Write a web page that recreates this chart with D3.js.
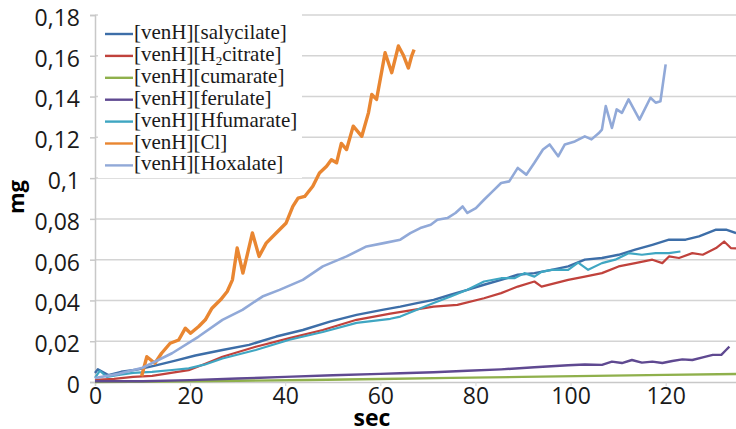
<!DOCTYPE html>
<html>
<head>
<meta charset="utf-8">
<script src="https://cdn.jsdelivr.net/npm/d3@7"></script>
<style>
  body { margin: 0; background: #fff; }
  svg { display: block; }
</style>
</head>
<body>
<script>
// Data: [sec, mg]
const salycilate = [[0,0.0044],[0.6,0.0062],[2.8,0.0034],[5.5,0.005],[9.1,0.0062],[12.6,0.008],[16.9,0.0105],[21.1,0.013],[26.8,0.0157],[32.4,0.0182],[38.1,0.0223],[43.7,0.0255],[49.4,0.0296],[55,0.0329],[60.7,0.0355],[64.2,0.037],[67.7,0.0387],[71.2,0.0403],[74.8,0.0428],[78.3,0.0452],[81.8,0.0477],[85.4,0.0501],[88.9,0.0526],[92.4,0.0534],[96,0.055],[99.5,0.0567],[103,0.06],[106.6,0.0608],[110.1,0.0624],[113.6,0.0649],[117.2,0.0673],[120.7,0.0698],[124.2,0.0698],[127,0.0714],[130.6,0.0747],[132.7,0.0747],[134.8,0.073]]
const citrate = [[0,0.001],[4,0.0015],[8,0.0025],[12,0.003],[16,0.0045],[19.7,0.0058],[23.2,0.009],[26.8,0.0124],[33.8,0.0173],[40.9,0.0215],[47.9,0.0255],[55,0.0305],[62.1,0.0335],[66,0.035],[71.2,0.037],[76.2,0.0378],[81.8,0.0411],[85.4,0.0436],[88.9,0.0468],[92.4,0.0493],[93.9,0.0468],[99.5,0.0501],[103,0.0517],[106.6,0.0534],[110.1,0.0567],[113.6,0.0583],[117.2,0.06],[119.3,0.0583],[120.7,0.0616],[122.8,0.0608],[125.6,0.0632],[127.8,0.0624],[130.6,0.0657],[132.3,0.0689],[133.7,0.0657],[134.8,0.0655]]
const cumarate = [[0,0],[15,0.0002],[30,0.0006],[45,0.001],[60,0.0015],[75,0.002],[90,0.0025],[105,0.003],[120,0.0035],[135,0.0039]]
const ferulate = [[0,0.0004],[10,0.0004],[20,0.0009],[30,0.0017],[40,0.0025],[50,0.0033],[60,0.004],[64.2,0.0043],[71.2,0.0048],[78.3,0.0055],[85.4,0.0062],[92.4,0.0072],[99.5,0.0082],[103,0.0086],[106.6,0.0084],[108.7,0.01],[110.8,0.0093],[112.9,0.0108],[115,0.0095],[117.2,0.01],[119.3,0.0093],[121.4,0.0103],[123.5,0.0111],[125.6,0.0108],[127.8,0.0121],[129.9,0.0133],[131.7,0.0133],[132.7,0.0157],[133.4,0.0173]]
const fumarate = [[0,0.002],[1,0.0055],[2.5,0.0025],[5,0.0035],[8,0.0045],[12,0.005],[16.2,0.0059],[19.7,0.0067],[23,0.0085],[26.8,0.0115],[33.8,0.0157],[40.9,0.0207],[47.9,0.0245],[55,0.029],[62.1,0.031],[64.2,0.0321],[67.7,0.0354],[71.2,0.0387],[74.8,0.0419],[78.3,0.0452],[81.8,0.0493],[85.4,0.0509],[88.2,0.0509],[90.3,0.0534],[92.4,0.0517],[93.9,0.054],[96,0.055],[99.5,0.055],[101.6,0.0586],[103.7,0.055],[106.6,0.0583],[109.4,0.06],[112.2,0.0632],[115,0.0624],[117.9,0.0632],[120.7,0.0632],[123.1,0.064]]
const chloride = [[9.8,0.0028],[10.9,0.0124],[12.6,0.0092],[14,0.0141],[15.8,0.019],[17.6,0.0206],[19,0.0264],[20.1,0.0239],[21.8,0.0272],[23.2,0.0305],[24.6,0.0362],[26.4,0.0403],[27.8,0.0444],[28.9,0.0501],[29.9,0.0657],[31.1,0.0534],[32.1,0.0632],[33.1,0.0731],[34.5,0.0616],[36,0.0681],[38.1,0.0731],[40.2,0.078],[41.6,0.0861],[42.7,0.0902],[44.1,0.091],[45.8,0.096],[47.2,0.1025],[48.7,0.1058],[49.7,0.109],[50.8,0.1075],[51.8,0.117],[52.9,0.114],[54.3,0.1255],[56.1,0.1205],[57.5,0.132],[58.2,0.141],[59.2,0.1386],[60.3,0.1525],[61,0.1615],[62.4,0.1517],[63.8,0.1648],[64.9,0.16],[65.9,0.154],[66.6,0.16],[67.1,0.163]]
const oxalate = [[0,0.002],[5,0.004],[10,0.007],[16.2,0.0141],[21.8,0.0223],[26.8,0.0305],[31,0.0354],[35.2,0.0419],[38.8,0.0452],[43.7,0.0501],[47.9,0.0567],[52.9,0.0616],[57.1,0.0665],[60.7,0.0681],[64.2,0.0698],[66.3,0.073],[68.4,0.0755],[70.6,0.0771],[72,0.0796],[74.1,0.0804],[75.8,0.0829],[77.3,0.0861],[78.3,0.0829],[80.1,0.0853],[81.8,0.0894],[83.6,0.0935],[85.4,0.0976],[87.1,0.0984],[88.9,0.105],[90.7,0.1017],[92.4,0.1075],[94.2,0.114],[95.6,0.1165],[97.4,0.1107],[98.8,0.1165],[100.9,0.118],[103,0.1205],[104.4,0.119],[105.9,0.122],[106.6,0.1238],[107.4,0.1353],[108.7,0.1246],[109.7,0.1337],[110.8,0.132],[112.2,0.1386],[114.5,0.1287],[116.8,0.1394],[117.9,0.137],[118.9,0.1377],[120,0.1558]]

const xTicks = [0, 20, 40, 60, 80, 100, 120]
const yTicks = [0, 0.02, 0.04, 0.06, 0.08, 0.1, 0.12, 0.14, 0.16, 0.18]

const series = [
  { name: "salycilate", values: salycilate, color: "#3d6ea8", w: 2.4 },
  { name: "H2citrate", values: citrate, color: "#c0423c", w: 2.2 },
  { name: "cumarate", values: cumarate, color: "#8fb04c", w: 2.4 },
  { name: "ferulate", values: ferulate, color: "#5f4991", w: 2.4 },
  { name: "Hfumarate", values: fumarate, color: "#3fa6c2", w: 2.2 },
  { name: "Cl", values: chloride, color: "#e98631", w: 3.4 },
  { name: "Hoxalate", values: oxalate, color: "#91a9d8", w: 2.6 }
]

const W = 736, H = 429
const x = d3.scaleLinear().domain([0, 135]).range([95, 737])
const y = d3.scaleLinear().domain([0, 0.18]).range([382, 15])

const svg = d3.select("body").append("svg")
  .attr("width", W).attr("height", H)

// gridlines
svg.append("g")
  .selectAll("line")
  .data(yTicks.slice(1))
  .enter().append("line")
  .attr("x1", x(0)).attr("x2", W)
  .attr("y1", d => y(d)).attr("y2", d => y(d))
  .attr("stroke", "#d4d4d4").attr("stroke-width", 1.5)

// y axis
const fmt = d => d3.format("~g")(d).replace(".", ",")
const yAxis = svg.append("g")
  .attr("transform", `translate(${x(0)},0)`)
  .call(d3.axisLeft(y).tickValues(yTicks).tickFormat(fmt).tickSize(5).tickPadding(10))
yAxis.select(".domain").attr("stroke", "#c8c8c8").attr("stroke-width", 1.5)
yAxis.selectAll(".tick line").attr("stroke", "#c8c8c8").attr("stroke-width", 1.5)
yAxis.selectAll("text")
  .attr("dy", "0.45em")
  .style("font-family", "'Open Sans', sans-serif")
  .style("font-size", "23px")
  .attr("fill", "#1a1a1a")

// x axis
const xAxis = svg.append("g")
  .attr("transform", `translate(0,${y(0)})`)
  .call(d3.axisBottom(x).tickValues(xTicks).tickSize(4).tickPadding(2))
xAxis.select(".domain").attr("stroke", "#c8c8c8").attr("stroke-width", 1.5)
xAxis.selectAll(".tick line").attr("stroke", "#d4d4d4")
xAxis.selectAll("text")
  .style("font-family", "'Open Sans', sans-serif")
  .style("font-size", "23px")
  .attr("fill", "#1a1a1a")

// axis titles
svg.append("text")
  .attr("transform", "translate(24,197) rotate(-90)")
  .attr("text-anchor", "middle")
  .style("font-family", "'Open Sans', sans-serif")
  .style("font-size", "22px").style("font-weight", "bold")
  .text("mg")

svg.append("text")
  .attr("x", 372).attr("y", 426)
  .attr("text-anchor", "middle")
  .style("font-family", "'Open Sans', sans-serif")
  .style("font-size", "23px").style("font-weight", "bold")
  .text("sec")

// lines
const line = d3.line().x(d => x(d[0])).y(d => y(d[1]))
svg.append("g")
  .selectAll("path")
  .data(series)
  .enter().append("path")
  .attr("d", d => line(d.values))
  .attr("fill", "none")
  .attr("stroke", d => d.color)
  .attr("stroke-width", d => d.w)
  .attr("stroke-linejoin", "round")

// legend
const legend = svg.append("g").attr("id", "legend")
legend.append("rect")
  .attr("x", 98).attr("y", 10).attr("width", 204).attr("height", 168)
  .attr("fill", "#fff")

const rowY = i => 39 + i * 21.9
legend.selectAll("line")
  .data(series)
  .enter().append("line")
  .attr("x1", 105).attr("x2", 133)
  .attr("y1", (_, i) => rowY(i) - 5).attr("y2", (_, i) => rowY(i) - 5)
  .attr("stroke", d => d.color).attr("stroke-width", 2.4)

const labels = legend.selectAll("text")
  .data(series)
  .enter().append("text")
  .attr("x", 134).attr("y", (_, i) => rowY(i))
  .style("font-family", "'Liberation Serif', 'Times New Roman', serif")
  .style("font-size", "21px")
  .attr("fill", "#1a1a1a")

labels.each(function (d) {
  const t = d3.select(this)
  if (d.name === "H2citrate") {
    t.append("tspan").text("[venH][H")
    t.append("tspan").text("2").attr("font-size", "13px").attr("dy", 4)
    t.append("tspan").text("citrate]").attr("dy", -4)
  } else {
    t.text(`[venH][${d.name}]`)
  }
})
</script>
</body>
</html>
